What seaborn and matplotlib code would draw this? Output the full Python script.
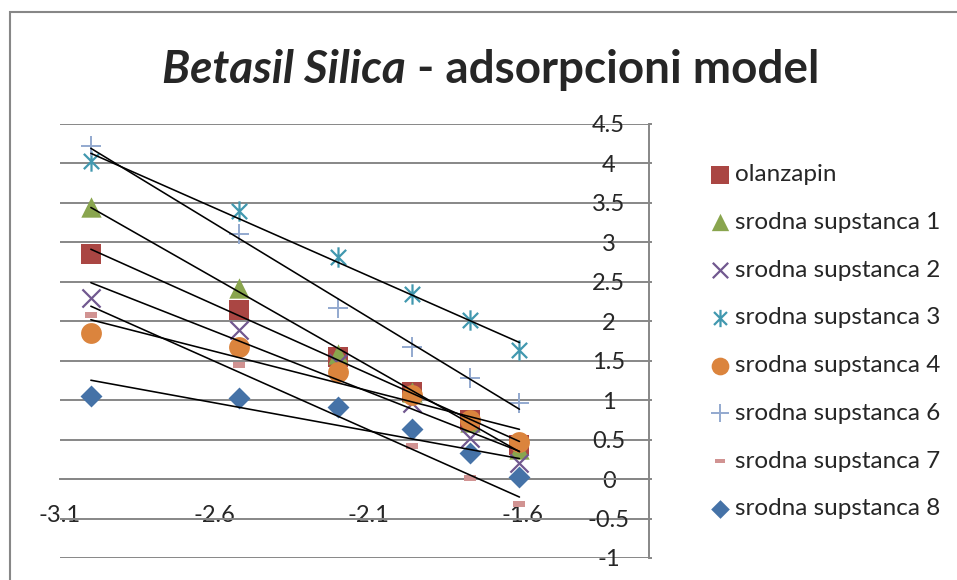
import numpy as np
import matplotlib
matplotlib.use('Agg')
import matplotlib.pyplot as plt
import seaborn as sns
from matplotlib.path import Path
from matplotlib.patches import Rectangle

# x = log of concentration, same for all series
xvals = [-3.0, -2.52, -2.2, -1.96, -1.77, -1.61]

names = ['olanzapin', 'srodna supstanca 1', 'srodna supstanca 2', 'srodna supstanca 3',
         'srodna supstanca 4', 'srodna supstanca 6', 'srodna supstanca 7', 'srodna supstanca 8']

olanzapin = [2.85, 2.14, 1.55, 1.10, 0.75, 0.43]
ss1 = [3.45, 2.42, 1.58, 1.10, 0.72, 0.38]
ss2 = [2.30, 1.89, 1.47, 0.96, 0.52, 0.20]
ss3 = [4.03, 3.40, 2.82, 2.34, 2.02, 1.64]
ss4 = [1.85, 1.68, 1.36, 1.07, 0.75, 0.47]
ss6 = [4.22, 3.10, 2.17, 1.67, 1.28, 0.96]
ss7 = [2.08, 1.45, 0.90, 0.42, 0.02, -0.32]
ss8 = [1.05, 1.03, 0.91, 0.64, 0.33, 0.03]
series = [olanzapin, ss1, ss2, ss3, ss4, ss6, ss7, ss8]

xticks = [-3.1, -2.6, -2.1, -1.6]
yticks = [-1, -0.5, 0, 0.5, 1, 1.5, 2, 2.5, 3, 3.5, 4, 4.5]

colors = ['#AA4643', '#89A54E', '#71588F', '#4198AF', '#DB843D', '#93A9CF', '#D19392', '#4572A7']

# excel-like markers
star = Path([(0, -1), (0, 1), (-0.75, -0.75), (0.75, 0.75), (-0.75, 0.75), (0.75, -0.75)],
            [Path.MOVETO, Path.LINETO, Path.MOVETO, Path.LINETO, Path.MOVETO, Path.LINETO])
dash = Path([(-1, -0.45), (1, -0.45), (1, 0.45), (-1, 0.45), (-1, -0.45)],
            [Path.MOVETO, Path.LINETO, Path.LINETO, Path.LINETO, Path.CLOSEPOLY])
markers = ['s', '^', 'x', star, 'o', '+', dash, 'D']
msizes = [215, 215, 170, 215, 225, 215, 65, 125]
lws = [0, 0, 1.6, 1.6, 0, 1.4, 0, 0]

sns.set_style('white')
plt.rcParams['font.family'] = ['Lato', 'DejaVu Sans']
plt.rcParams['axes.unicode_minus'] = False

fig = plt.figure(figsize=(9.57, 5.8), dpi=100)
ax = fig.add_axes([60/957, 22/580, (649-60)/957, (558-124)/580])

gray = '#878787'

for name, vals, col, mk, ms, lw in zip(names, series, colors, markers, msizes, lws):
    sns.scatterplot(x=xvals, y=vals, ax=ax, marker=mk, s=ms, color=col,
                    edgecolor=col, linewidth=lw, label=name, zorder=3)

#linear trendlines on top of markers
for vals in series:
    sns.regplot(x=xvals, y=vals, ax=ax, scatter=False, ci=None, truncate=True,
                line_kws={'color': 'black', 'lw': 1.15, 'zorder': 5})

ax.set_xlim(-3.1, -1.19)
ax.set_ylim(-1, 4.5)
ax.set_xticks(xticks)
ax.set_xticklabels(['%g' % t for t in xticks])
ax.set_yticks(yticks)
ax.set_yticklabels(['%g' % t for t in yticks])
ax.set_xlabel('')
ax.set_ylabel('')

ax.grid(axis='y', color=gray, lw=1.4)
ax.grid(axis='x', visible=False)
ax.set_axisbelow(True)

ax.spines['left'].set_visible(False)
ax.spines['top'].set_visible(False)
ax.spines['bottom'].set_position(('data', 0))
ax.spines['bottom'].set_color(gray)
ax.spines['bottom'].set_linewidth(1.4)
ax.spines['right'].set_color(gray)
ax.spines['right'].set_linewidth(1.4)

ax.yaxis.tick_right()
ax.tick_params(axis='x', direction='out', length=6, width=1.4, color=gray, labelsize=17, pad=13)
ax.tick_params(axis='y', direction='out', length=2, width=1.4, color=gray, labelsize=17, pad=-31)
plt.setp(ax.yaxis.get_majorticklabels(), ha='center')

if ax.legend_:
    ax.legend_.remove()
handles, labels = ax.get_legend_handles_labels()
fig.legend(handles, labels, loc='upper left', bbox_to_anchor=(0.7430, 0.7171),
           frameon=False, fontsize=17.5, handlelength=0.7, handletextpad=0.28,
           labelspacing=1.1, markerscale=0.85, scatterpoints=1,
           borderaxespad=0, borderpad=0)

# title, first part italic
t1 = fig.text(0, 1 - 83/580, 'Betasil Silica', fontsize=33, fontweight='bold',
              fontstyle='italic', ha='left', va='baseline')
t2 = fig.text(0, 1 - 83/580, ' - adsorpcioni model', fontsize=33, fontweight='bold',
              ha='left', va='baseline')
fig.canvas.draw()
r = fig.canvas.get_renderer()
w1 = t1.get_window_extent(r).width
w2 = t2.get_window_extent(r).width
x0 = 491 - (w1 + w2) / 2
t1.set_x(x0 / 957)
t2.set_x((x0 + w1) / 957)

# chart border
fig.patches.append(Rectangle((10/957, -0.1), 2, 1.1 - 12/580, transform=fig.transFigure,
                             fill=False, edgecolor=gray, lw=1.5))

fig.savefig('out.png', dpi=100)
